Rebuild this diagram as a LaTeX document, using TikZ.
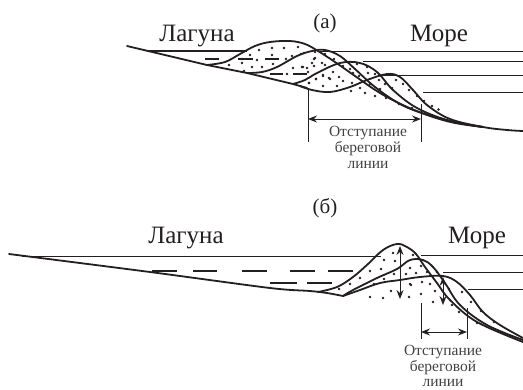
\documentclass[tikz,border=0pt]{standalone}
\usepackage{fontspec}
\setmainfont{Liberation Serif}
\usetikzlibrary{arrows.meta}
\definecolor{ink}{HTML}{231F20}
\tikzset{
 x=1pt,y=-1pt,
 base/.style={line width=1.8pt,color=ink,line cap=round,line join=round},
 thin water/.style={line width=.9pt,color=ink},
 bold water/.style={line width=1.8pt,color=ink},
 dashw/.style={line width=1.7pt,color=ink},
 measure/.style={line width=1pt,color=ink},
 dbl/.style={line width=1pt,color=ink,{Stealth[length=9pt,width=7pt,inset=3pt]}-{Stealth[length=9pt,width=7pt,inset=3pt]}},
 big/.style={font=\fontsize{25}{25}\selectfont,text=ink,inner sep=0pt},
 med/.style={font=\fontsize{21}{21}\selectfont,text=ink,inner sep=0pt},
 small/.style={font=\fontsize{15.5}{15.8}\selectfont,text=ink!85,inner sep=0pt,align=center},
}
\newcommand{\sanddots}[1]{\foreach \px/\py in {#1}{\fill[ink] (\px,\py) circle (1.4pt);}}
\begin{document}
\begin{tikzpicture}
\useasboundingbox (0,0) rectangle (523,389);
% ---------- panel a
\node[med] (ta) at (325,23) {(а)};
\node[big] (la) at (197,36) {Лагуна};
\node[big] (ma) at (439,36) {Море};
\draw[bold water] (147,51) -- (247,51);
\draw[thin water] (318,51) -- (523,51);
\draw[thin water] (363,61) -- (523,61);
\draw[thin water] (380,75) -- (523,75);
\draw[thin water] (423,92) -- (523,92);
\foreach \xa/\xb/\yy in {205/219/59,238/253/59,265/279/59,270/283/74,293/307/74}{\draw[dashw] (\xa,\yy) -- (\xb,\yy);}
\draw[base] (127,46) -- (207,65) -- (247,73) -- (293,84) -- (307,88);
\draw[base] plot[smooth,tension=.6] coordinates {(207,65) (225,62) (240,54) (255,46) (270,42) (290,41) (305,44) (318,51) (335,62) (355,76) (380,93) (405,106) (430,116) (455,123) (483,127)};
\draw[base] plot[smooth,tension=.6] coordinates {(247,73) (262,72) (277,67) (297,56) (312,51) (325,50) (340,56) (355,69) (375,87) (400,104) (425,114) (455,122) (483,127)};
\draw[base] plot[smooth,tension=.6] coordinates {(293,84) (305,80) (317,73) (340,63) (360,63) (377,72) (393,90) (417,108) (450,121) (483,127)};
\draw[base] plot[smooth,tension=.6] coordinates {(300,86) (312,90) (330,92) (350,87) (367,80) (387,74) (400,77) (413,90) (427,105) (450,119) (483,127) (507,130) (523,131)};
\sanddots{259/50,272/48,284/48,298/47,250/55,242/59,257/60,272/55,286/59,292/56,301/54,315/52,229/65,242/63,252/67,262/67,273/64,244/71,287/74,293/68,302/67,307/68,312/63,322/63,315/58,323/75,309/83,316/79,329/78,
304/53,314/59,325/54,334/59,303/67,314/66,308/72,325/65,333/72,323/76,316/79,330/79,339/77,343/81,309/83,323/86,337/86,352/83,360/88,351/91,365/93,375/96,386/98,399/104,412/108,425/113,343/66,350/69,357/64,367/67,353/73,359/76,368/73,375/74,370/84,379/80,385/84,380/89,392/88,396/80,403/84,409/90,417/96,424/101,432/106,438.5/109.5}
\coordinate (a1t) at (308,89);\coordinate (a1b) at (308,142);
\coordinate (a2t) at (421,104);\coordinate (a2b) at (421,142);
\draw[measure] (a1t) -- (a1b);
\draw[measure] (a2t) -- (a2b);
\coordinate (a3l) at (308,119);\coordinate (a3r) at (421,119);
\draw[dbl] (a3l) -- (a3r);
\node[small] (ca) at (368,147.5) {Отступание\\береговой\\линии};
% ---------- panel b
\node[med] (tb) at (325,208) {(б)};
\node[big] (lb) at (186,238) {Лагуна};
\node[big] (mb) at (477,238) {Море};
\draw[thin water] (22,256) -- (381,256);
\draw[thin water] (421,255) -- (523,255);
\draw[thin water] (443,272) -- (523,272);
\draw[thin water] (468,289) -- (523,289);
\foreach \xa/\xb/\yy in {152/177/271,193/217/271,242/267/271,290/315/271,328/353/271,270/297/283,307/332/283}{\draw[dashw] (\xa,\yy) -- (\xb,\yy);}
\draw[base] plot[smooth,tension=.5] coordinates {(9,254) (150,272) (270,288) (310,291) (327,293) (343,296)};
\draw[base] plot[smooth,tension=.6] coordinates {(318,292) (337,287) (353,277) (368,264) (383,250) (397,244) (407,247) (416,254) (425,267) (437,283) (450,300) (477,322) (523,342)};
\draw[base] plot[smooth,tension=.6] coordinates {(343,296) (353,290) (377,278) (397,269) (410,260) (423,260) (433,267) (445,283) (460,305) (487,325) (523,340)};
\draw[base] plot[smooth,tension=.6] coordinates {(343,296) (360,290) (380,283) (400,280) (420,277) (443,276) (457,282) (470,295) (483,312) (500,325) (523,338)};
\sanddots{339/289,350/284,360/278,370/271,381/269,394/274,384/260,393/253,395/261,384/279,374/284,370/297,383/298,391/291,410/268,416/273,406/274,410/284,409/297,413/255,
421/266,427/272,437/272,411/285,422/282,430/284,449/289,462/292,471/302,481/311,494/322,477/323,459/312,452/305,435/291,421/294,433/302}
\coordinate (b1t) at (400,246);\coordinate (b1b) at (400,299);
\draw[dbl] (b1t) -- (b1b);
\coordinate (b2t) at (443,277);\coordinate (b2b) at (443,305);
\draw[dbl] (b2t) -- (b2b);
\coordinate (b3t) at (421,303);\coordinate (b3b) at (421,339);
\coordinate (b4t) at (467,308);\coordinate (b4b) at (467,339);
\draw[measure] (b3t) -- (b3b);
\draw[measure] (b4t) -- (b4b);
\coordinate (b5l) at (421,332);\coordinate (b5r) at (467,332);
\draw[dbl] (b5l) -- (b5r);
\node[small] (cb) at (443,366) {Отступание\\береговой\\линии};
\end{tikzpicture}
\end{document}
